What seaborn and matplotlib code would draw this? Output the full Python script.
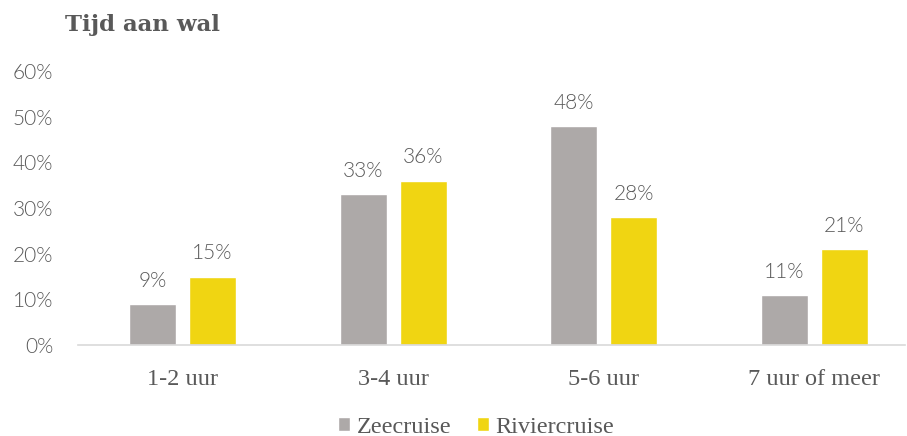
import pandas as pd
import matplotlib
matplotlib.use("Agg")
import matplotlib.pyplot as plt
import seaborn as sb

# data
categorieen = ["1-2 uur", "3-4 uur", "5-6 uur", "7 uur of meer"]
zeecruise = [9, 33, 48, 11]
riviercruise = [15, 36, 28, 21]
reeksen = ["Zeecruise", "Riviercruise"]

df = pd.DataFrame({
    "categorie": categorieen * 2,
    "waarde": zeecruise + riviercruise,
    "reeks": [reeksen[0]] * 4 + [reeksen[1]] * 4,
})

sb.set_style("white")
plt.rcParams["font.family"] = ["Lato", "DejaVu Sans"]
tekst = "#595959"
kleuren = {"Zeecruise": "#ADA9A8", "Riviercruise": "#F0D512"}
serif = ["Liberation Serif", "DejaVu Serif"]

fig = plt.figure(figsize=(9.07, 4.36), dpi=100)
ax = fig.add_axes([78 / 907, 1 - 345 / 436, (905 - 78) / 907, (345 - 71) / 436])

sb.barplot(data=df, x="categorie", y="waarde", hue="reeks", palette=kleuren,
           width=0.57, gap=0.218, saturation=1, ax=ax, legend=True)

for cont in ax.containers:
    ax.bar_label(cont, labels=[f"{v:.0f}%" for v in cont.datavalues],
                 padding=9.5, fontsize=15, color=tekst, fontweight=300)

ax.set_ylim(0, 60)
ax.set_xlim(-0.496, 3.43)
ax.set_yticks(range(0, 61, 10))
ax.set_yticklabels([f"{v}%" for v in range(0, 61, 10)])
ax.tick_params(axis="both", length=0, labelsize=15, labelcolor=tekst)
ax.tick_params(axis="y", pad=18)
ax.tick_params(axis="x", pad=17)
plt.setp(ax.get_yticklabels(), fontweight=300)
plt.setp(ax.get_xticklabels(), family=serif, fontsize=17.5)
ax.set_xlabel("")
ax.set_ylabel("")
for s in ["top", "right", "left"]:
    ax.spines[s].set_visible(False)
ax.spines["bottom"].set_color("#D9D9D9")
ax.spines["bottom"].set_linewidth(1.2)

leg = ax.legend(loc="center", bbox_to_anchor=(476 / 907, 1 - 427 / 436),
                bbox_transform=fig.transFigure, ncol=2, frameon=False,
                prop={"family": serif, "size": 17.5},
                handlelength=0.5, handleheight=0.5,
                handletextpad=0.25, columnspacing=1.05)
for t in leg.get_texts():
    t.set_color(tekst)

fig.text(65 / 907, 1 - 25 / 436, "Tijd aan wal", fontsize=16.5, fontweight="bold",
         family=["DejaVu Serif"], color=tekst, va="center", ha="left")

fig.savefig("out.png", dpi=100)
